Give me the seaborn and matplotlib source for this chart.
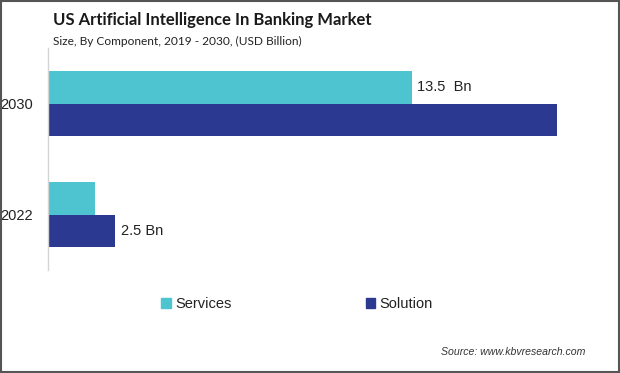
import matplotlib
matplotlib.use("Agg")
import matplotlib.pyplot as plt
import seaborn as sns
import pandas as pd
from matplotlib.patches import Rectangle

years = ["2030", "2022"]
components = ["Services", "Solution"]
services = [13.5, 1.75]
solution = [18.9, 2.5]
bar_labels = {("2030", "Services"): "13.5  Bn", ("2022", "Solution"): "2.5 Bn"}

df = pd.DataFrame({
    "Year": years * 2,
    "Component": ["Services"] * len(years) + ["Solution"] * len(years),
    "Value": services + solution,
})

colors = {"Services": "#4DC4CF", "Solution": "#2B3990"}

sns.set_style("white")
plt.rcParams["font.family"] = ["Liberation Sans", "DejaVu Sans"]

fig = plt.figure(figsize=(6.2, 3.73), dpi=100)
ax = fig.add_axes([48 / 620, 1 - 270 / 373, 539 / 620, 222 / 373])

sns.barplot(data=df, y="Year", x="Value", hue="Component", order=years,
            hue_order=components, palette=colors, orient="h", width=0.58,
            gap=0, dodge=True, legend=False, ax=ax, saturation=1, linewidth=0)

ax.set_xlim(0, 20)
ax.set_ylim(1.5, -0.5)
ax.set_xlabel("")
ax.set_ylabel("")
ax.set_xticks([])
ax.tick_params(axis="y", length=0, pad=11, labelsize=10.5, labelcolor="#222222")
for s in ["top", "right", "bottom"]:
    ax.spines[s].set_visible(False)
ax.spines["left"].set_color("#d4d4d4")
ax.spines["left"].set_linewidth(1)

# value labels
for cont, comp in zip(ax.containers, components):
    for bar, yr in zip(cont, years):
        key = (yr, comp)
        if key in bar_labels:
            ax.annotate(bar_labels[key], (bar.get_width(), bar.get_y() + bar.get_height() / 2),
                        xytext=(4, 0), textcoords="offset points", va="center", ha="left",
                        fontsize=10.5, color="#222222")

fig.text(53 / 620, 1 - 20 / 373, "US Artificial Intelligence In Banking Market",
         fontsize=12, fontweight="bold", color="#1a1a1a", va="center", ha="left",
         family=["Lato", "DejaVu Sans"])
fig.text(53 / 620, 1 - 41 / 373, "Size, By Component, 2019 - 2030, (USD Billion)",
         fontsize=8.6, color="#222222", va="center", ha="left",
         family=["Lato", "DejaVu Sans"])

# legend
handles = [Rectangle((0, 0), 1, 1, color=colors[c]) for c in components]
leg = fig.legend(handles, components, loc="center", bbox_to_anchor=(0.479, 1 - 304 / 373),
                 ncol=2, frameon=False, fontsize=10.5, handlelength=0.65, handleheight=0.65,
                 handletextpad=0.3, columnspacing=9.2)
for t in leg.get_texts():
    t.set_color("#222222")

fig.text(585 / 620, 1 - 352 / 373, "Source: www.kbvresearch.com", fontsize=7.6,
         style="italic", color="#333333", ha="right", va="center")

# outer border
fig.patches.append(Rectangle((0.0015, 0.002), 0.997, 0.996, transform=fig.transFigure,
                             fill=False, edgecolor="#555555", linewidth=1.5))

fig.savefig("out.png", dpi=100)
